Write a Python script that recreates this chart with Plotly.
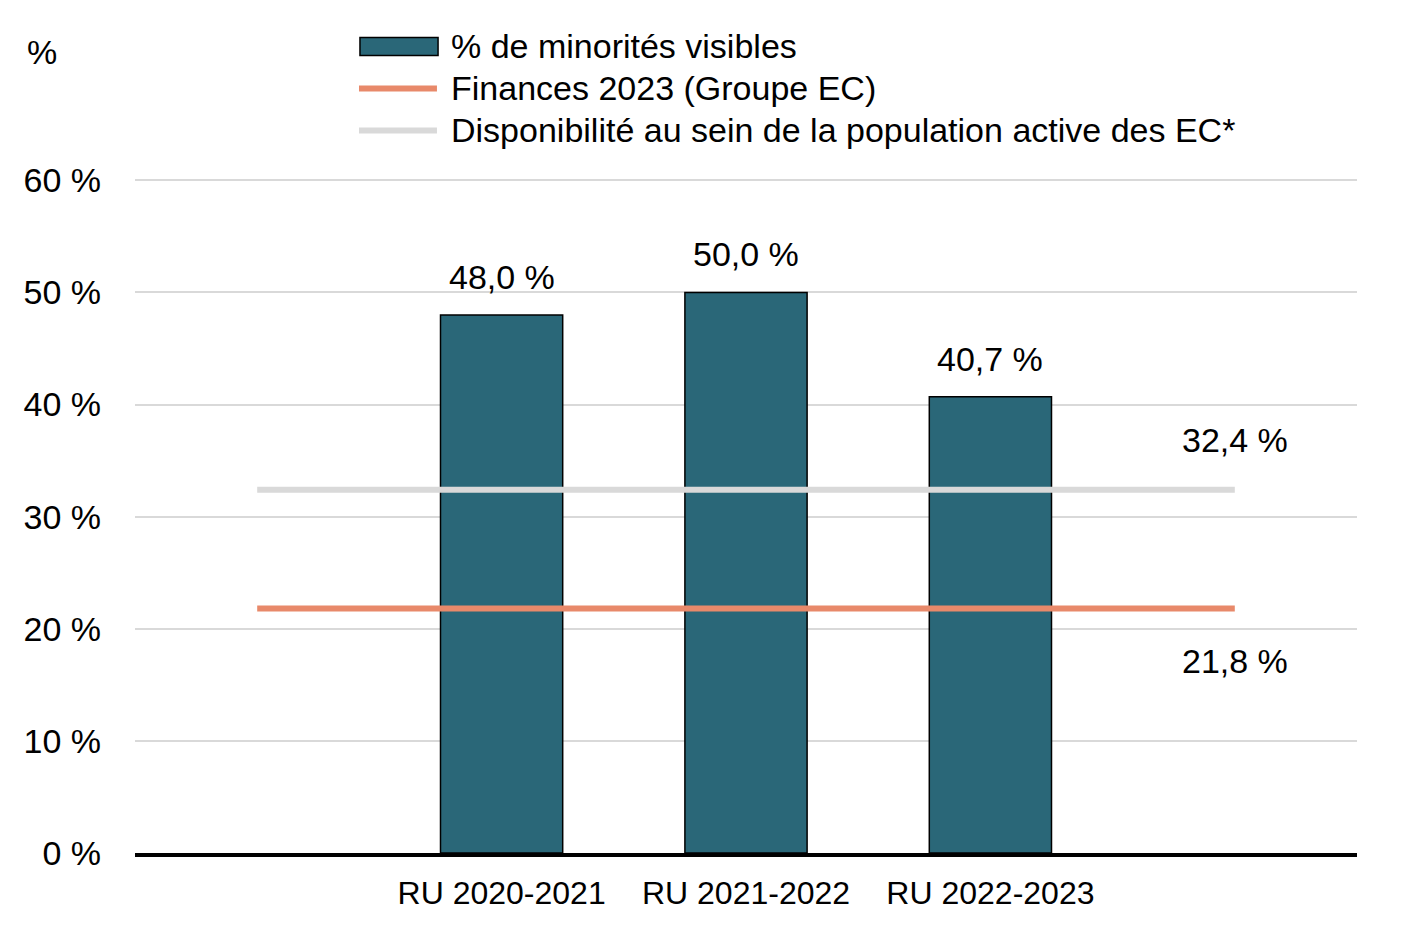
import plotly.graph_objects as go

CATEGORIES = [" ", "RU 2020-2021", "RU 2021-2022", "RU 2022-2023", "  "]
TICK_LABELS = ["", "RU 2020-2021", "RU 2021-2022", "RU 2022-2023", ""]
MINORITES = [None, 48.0, 50.0, 40.7, None]
BAR_LABELS = ["", "48,0 %", "50,0 %", "40,7 %", ""]
FINANCES_2023 = 21.8
DISPONIBILITE = 32.4
FINANCES_LABEL = "21,8 %"
DISPONIBILITE_LABEL = "32,4 %"
SERIES_NAMES = ["% de minorités visibles", "Finances 2023 (Groupe EC)",
                "Disponibilité au sein de la population active des EC*"]
Y_TICKS = [0, 10, 20, 30, 40, 50, 60]
Y_TICK_TEXT = ["0 %", "10 %", "20 %", "30 %", "40 %", "50 %", "60 %"]

FONT = "Liberation Sans, Arial, sans-serif"
BAR_COLOR = "#2a6778"
ORANGE = "#e8896a"
GREY = "#d9d9d9"
TXT = 34

fig = go.Figure()
fig.add_trace(go.Bar(
    x=CATEGORIES, y=MINORITES, name=SERIES_NAMES[0],
    marker=dict(color=BAR_COLOR, line=dict(color="#000000", width=1.5)),
    width=0.5, showlegend=False,
))
line_x = [CATEGORIES[0], CATEGORIES[-1]]
fig.add_trace(go.Scatter(
    x=line_x, y=[FINANCES_2023] * 2, mode="lines", name=SERIES_NAMES[1],
    line=dict(color=ORANGE, width=6), showlegend=False,
))
fig.add_trace(go.Scatter(
    x=line_x, y=[DISPONIBILITE] * 2, mode="lines", name=SERIES_NAMES[2],
    line=dict(color=GREY, width=6), showlegend=False,
))

annotations = []
for cat, val, lab in zip(CATEGORIES, MINORITES, BAR_LABELS):
    if val is None:
        continue
    annotations.append(dict(x=cat, y=val, text=lab, showarrow=False,
                            yanchor="bottom", yshift=17,
                            font=dict(size=TXT, color="#000000", family=FONT)))
annotations.append(dict(x=CATEGORIES[-1], y=DISPONIBILITE, text=DISPONIBILITE_LABEL,
                        showarrow=False, yanchor="middle", yshift=50,
                        font=dict(size=TXT, color="#000000", family=FONT)))
annotations.append(dict(x=CATEGORIES[-1], y=FINANCES_2023, text=FINANCES_LABEL,
                        showarrow=False, yanchor="middle", yshift=-52,
                        font=dict(size=TXT, color="#000000", family=FONT)))
annotations.append(dict(xref="paper", yref="paper", x=-0.0761, y=1.1842, text="%",
                        showarrow=False, xanchor="center", yanchor="middle",
                        font=dict(size=TXT, color="#000000", family=FONT)))

# manual legend (wide symbols like the reference)
legend_y = [1.1931, 1.1310, 1.0689]
for name, yy in zip(SERIES_NAMES, legend_y):
    annotations.append(dict(xref="paper", yref="paper", x=0.2570, y=yy, text=name,
                            showarrow=False, xanchor="left", yanchor="middle",
                            font=dict(size=TXT, color="#000000", family=FONT)))
shapes = [
    dict(type="rect", xref="paper", yref="paper", x0=0.1841, x1=0.2480,
         y0=1.1798, y1=1.2064, fillcolor=BAR_COLOR,
         line=dict(color="#000000", width=1.5)),
    dict(type="line", xref="paper", yref="paper", x0=0.1833, x1=0.2471,
         y0=legend_y[1], y1=legend_y[1], line=dict(color=ORANGE, width=6)),
    dict(type="line", xref="paper", yref="paper", x0=0.1833, x1=0.2471,
         y0=legend_y[2], y1=legend_y[2], line=dict(color=GREY, width=6)),
]

fig.update_layout(
    width=1417, height=945,
    margin=dict(l=127, r=68, t=169, b=100, pad=0),
    paper_bgcolor="white", plot_bgcolor="white",
    font=dict(family=FONT, color="#000000", size=TXT),
    showlegend=False,
    annotations=annotations,
    shapes=shapes,
    bargap=0.5,
)
fig.update_xaxes(
    type="category", categoryorder="array", categoryarray=CATEGORIES,
    tickvals=CATEGORIES, ticktext=TICK_LABELS,
    tickfont=dict(size=32, family=FONT, color="#000000"),
    showline=True, linecolor="#000000", linewidth=4,
    showgrid=False, ticks="", ticklabelstandoff=9,
)
fig.update_yaxes(
    range=[0, 60.3], tickvals=Y_TICKS, ticktext=Y_TICK_TEXT,
    tickfont=dict(size=TXT, family=FONT, color="#000000"),
    showgrid=True, gridcolor=GREY, gridwidth=1.5,
    zeroline=False, showline=False, ticks="", ticklabelstandoff=33,
)

fig.write_html("out.html")
